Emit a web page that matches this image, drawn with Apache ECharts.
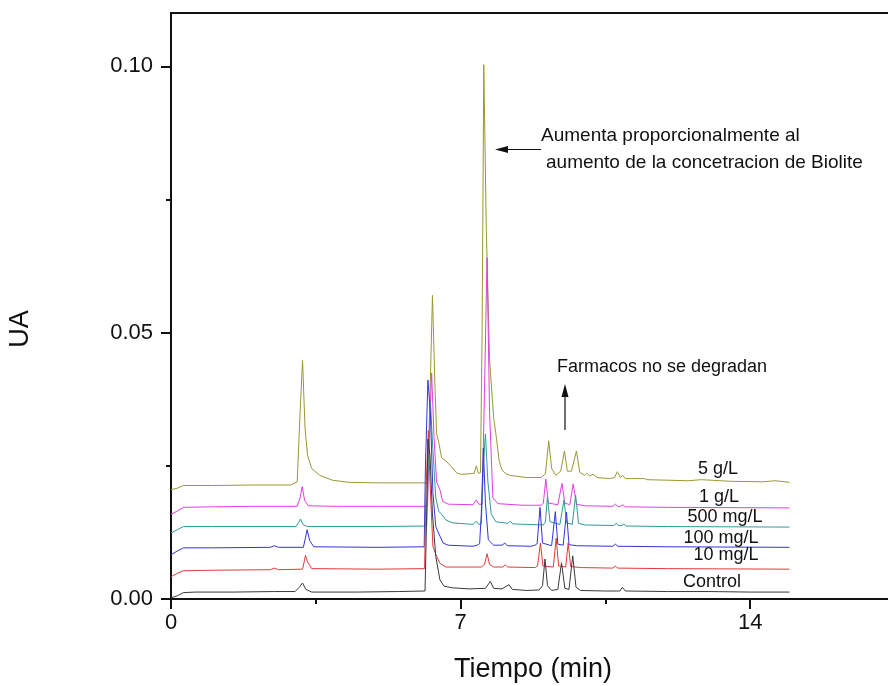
<!DOCTYPE html>
<html>
<head>
<meta charset="utf-8">
<script src="https://cdn.jsdelivr.net/npm/echarts@6/dist/echarts.min.js"></script>
<style>
html,body{margin:0;padding:0;background:#fff;}
#chart{width:888px;height:686px;}
</style>
</head>
<body>
<div id="chart"></div>
<script>
// ---- Data (time in min, absorbance UA) ----
const seriesNames = ["5 g/L", "1 g/L", "500 mg/L", "100 mg/L", "10 mg/L", "Control"];

const g5 = [[0,0.0205],[0.15,0.0208],[0.3,0.0213],[1,0.0213],[2,0.0214],[2.9,0.0214],[3.05,0.022],[3.12,0.035],[3.18,0.0448],[3.24,0.032],[3.3,0.027],[3.4,0.0245],[3.6,0.0232],[3.9,0.0223],[4.3,0.0219],[5,0.0218],[6,0.0218],[6.2,0.0218],[6.25,0.035],[6.32,0.057],[6.38,0.04],[6.42,0.031],[6.47,0.0295],[6.54,0.0265],[6.66,0.0258],[6.78,0.0248],[6.9,0.0237],[7.0,0.0234],[7.2,0.0235],[7.33,0.0236],[7.38,0.025],[7.43,0.0236],[7.48,0.0237],[7.52,0.05],[7.56,0.1003],[7.62,0.07],[7.7,0.045],[7.8,0.034],[7.87,0.03],[7.93,0.026],[8.0,0.0242],[8.1,0.0235],[8.2,0.0232],[8.6,0.0228],[8.95,0.0228],[9.05,0.0235],[9.13,0.0297],[9.2,0.0245],[9.3,0.0232],[9.42,0.024],[9.51,0.0278],[9.58,0.024],[9.68,0.024],[9.8,0.0278],[9.88,0.0238],[10.0,0.0232],[10.05,0.0236],[10.12,0.0231],[10.2,0.0234],[10.3,0.0228],[10.6,0.0226],[10.72,0.0228],[10.79,0.0239],[10.86,0.0228],[10.92,0.0232],[10.98,0.0226],[11.45,0.0226],[11.5,0.0224],[12.5,0.0222],[12.82,0.0224],[13.5,0.0221],[14.3,0.022],[14.6,0.0222],[14.95,0.0219]];

const g1 = [[0,0.0159],[0.15,0.0165],[0.3,0.0172],[1,0.0173],[2,0.0174],[3.05,0.0174],[3.12,0.019],[3.17,0.0211],[3.23,0.0185],[3.32,0.0175],[4,0.0174],[5,0.0174],[6.0,0.0174],[6.2,0.0174],[6.24,0.03],[6.30,0.0424],[6.36,0.03],[6.42,0.022],[6.5,0.0205],[6.57,0.0183],[6.7,0.0178],[7.3,0.0177],[7.38,0.0186],[7.44,0.0178],[7.52,0.0178],[7.58,0.04],[7.64,0.0641],[7.7,0.035],[7.78,0.019],[7.9,0.0179],[8.5,0.0176],[8.95,0.0176],[9.0,0.018],[9.06,0.0225],[9.12,0.018],[9.35,0.0177],[9.45,0.0217],[9.52,0.018],[9.64,0.0177],[9.72,0.0216],[9.8,0.0178],[10,0.0175],[10.68,0.0174],[10.74,0.0178],[10.8,0.0174],[10.86,0.0174],[10.92,0.0177],[10.98,0.0173],[12,0.0172],[14.95,0.0171]];

const mg500 = [[0,0.0124],[0.15,0.013],[0.3,0.0136],[1,0.0136],[2,0.0136],[3.02,0.0136],[3.08,0.0143],[3.13,0.015],[3.2,0.0139],[3.3,0.0136],[5,0.0136],[6.18,0.0137],[6.22,0.025],[6.27,0.037],[6.33,0.028],[6.4,0.019],[6.47,0.0165],[6.55,0.0158],[6.65,0.0148],[6.8,0.0143],[7.3,0.014],[7.38,0.0146],[7.44,0.014],[7.5,0.0141],[7.55,0.025],[7.6,0.031],[7.66,0.022],[7.74,0.016],[7.85,0.0145],[8.15,0.0142],[8.2,0.0146],[8.26,0.0141],[9.0,0.0139],[9.05,0.0145],[9.1,0.0192],[9.16,0.0145],[9.4,0.014],[9.5,0.0186],[9.56,0.0143],[9.7,0.014],[9.78,0.0195],[9.85,0.0142],[10,0.0139],[10.7,0.0138],[10.76,0.0142],[10.82,0.0138],[10.9,0.0138],[10.95,0.0141],[11,0.0137],[12,0.0136],[14.95,0.0135]];

const mg100 = [[0,0.0083],[0.15,0.009],[0.3,0.0096],[1,0.0096],[2.4,0.0097],[2.5,0.01],[2.6,0.0097],[3.2,0.0097],[3.25,0.0115],[3.29,0.013],[3.35,0.011],[3.45,0.0098],[5,0.0097],[6.12,0.0098],[6.15,0.025],[6.21,0.0411],[6.27,0.035],[6.33,0.02],[6.4,0.0136],[6.5,0.0118],[6.58,0.0105],[6.7,0.0101],[7.3,0.0099],[7.4,0.0101],[7.46,0.0104],[7.5,0.016],[7.55,0.0283],[7.6,0.018],[7.67,0.0111],[7.8,0.0101],[8.0,0.0101],[8.07,0.0105],[8.13,0.01],[8.7,0.0099],[8.8,0.0101],[8.85,0.0104],[8.92,0.0172],[8.98,0.0105],[9.2,0.01],[9.29,0.0164],[9.35,0.0103],[9.48,0.0101],[9.56,0.0163],[9.62,0.0102],[9.8,0.01],[10.68,0.0099],[10.74,0.0103],[10.8,0.0099],[12,0.0098],[14.95,0.0097]];

const mg10 = [[0,0.0042],[0.15,0.0048],[0.3,0.0053],[1,0.0054],[2.4,0.0055],[2.5,0.0058],[2.6,0.0055],[3.18,0.0056],[3.22,0.007],[3.25,0.0082],[3.3,0.007],[3.4,0.0057],[5,0.0056],[6.13,0.0057],[6.16,0.02],[6.22,0.0316],[6.26,0.022],[6.33,0.0099],[6.42,0.008],[6.5,0.0067],[6.65,0.006],[7.5,0.006],[7.58,0.0065],[7.64,0.0085],[7.7,0.0065],[7.8,0.006],[8.02,0.006],[8.08,0.0064],[8.14,0.006],[8.8,0.0059],[8.86,0.0062],[8.93,0.0105],[8.99,0.0062],[9.24,0.006],[9.31,0.0114],[9.37,0.0062],[9.54,0.006],[9.6,0.0105],[9.66,0.0061],[9.9,0.0059],[10.68,0.0058],[10.74,0.0062],[10.8,0.0058],[12,0.0057],[14.95,0.0056]];

const control = [[0,0.0002],[0.15,0.0006],[0.3,0.0012],[0.6,0.0013],[1.5,0.0013],[2.5,0.0014],[3.0,0.0014],[3.1,0.0022],[3.18,0.003],[3.26,0.0018],[3.4,0.0013],[4.5,0.0013],[5.5,0.0014],[6.14,0.0015],[6.17,0.012],[6.21,0.03],[6.26,0.027],[6.32,0.016],[6.4,0.008],[6.5,0.0036],[6.6,0.0024],[6.8,0.0021],[7.2,0.0019],[7.6,0.002],[7.72,0.0033],[7.8,0.002],[8.0,0.0019],[8.17,0.0027],[8.25,0.0018],[8.6,0.0016],[8.9,0.0017],[8.98,0.0025],[9.04,0.0075],[9.1,0.0025],[9.2,0.0016],[9.35,0.0018],[9.44,0.0068],[9.52,0.002],[9.62,0.0018],[9.71,0.0081],[9.79,0.0022],[9.9,0.0016],[10.5,0.0015],[10.85,0.0015],[10.91,0.0022],[10.98,0.0015],[12,0.0014],[13,0.0014],[14,0.0013],[14.95,0.0013]];

const seriesData = [g5, g1, mg500, mg100, mg10, control];
const seriesColors = ["#999933", "#e23ee2", "#339999", "#3434d8", "#e23a3a", "#3a3a3a"];

const xMajorTicks = [0, 7, 14];
const xMinorTicks = [3.5, 10.5, 17.5];
const yMajorTicks = [0, 0.05, 0.10];
const yMinorTicks = [0.025, 0.075];

const xTitle = "Tiempo (min)";
const yTitle = "UA";
const note1a = "Aumenta proporcionalmente al";
const note1b = "aumento de la concetracion de Biolite";
const note2 = "Farmacos no se degradan";

// ---- Chart ----
const FONT = "'Liberation Sans', Arial, sans-serif";
const chart = echarts.init(document.getElementById('chart'), null, {renderer: 'canvas'});

const gridL = 171, gridT = 13, gridW = 724, gridB = 87;

const option = {
  animation: false,
  backgroundColor: '#fff',
  grid: {left: gridL, top: gridT, width: gridW, bottom: gridB, containLabel: false, outerBoundsMode: 'none',
    show: true, borderColor: '#111', borderWidth: 2, backgroundColor: 'transparent'},
  xAxis: [{
    type: 'value', min: 0, max: 17.5, gridIndex: 0,
    axisLine: {show: true, onZero: false, lineStyle: {color: '#111', width: 2}},
    axisTick: {show: true, inside: false, length: 10, lineStyle: {color: '#111', width: 2}, customValues: xMajorTicks},
    axisLabel: {show: true, customValues: xMajorTicks, color: '#111', fontSize: 22, fontFamily: FONT, margin: 13,
      formatter: v => String(v)},
    splitLine: {show: false},
    name: xTitle, nameLocation: 'middle', nameGap: 57,
    nameTextStyle: {color: '#111', fontSize: 27, fontFamily: FONT}
  }, {
    type: 'value', min: 0, max: 17.5, gridIndex: 0, position: 'bottom',
    axisLine: {show: false, onZero: false},
    axisTick: {show: true, inside: false, length: 5, lineStyle: {color: '#111', width: 2}, customValues: xMinorTicks},
    axisLabel: {show: false},
    splitLine: {show: false}
  }],
  yAxis: [{
    type: 'value', min: 0, max: 0.11, gridIndex: 0,
    axisLine: {show: true, onZero: false, lineStyle: {color: '#111', width: 2}},
    axisTick: {show: true, inside: false, length: 10, lineStyle: {color: '#111', width: 2}, customValues: yMajorTicks},
    axisLabel: {show: true, customValues: yMajorTicks, color: '#111', fontSize: 22, fontFamily: FONT, margin: 18,
      formatter: v => v.toFixed(2)},
    splitLine: {show: false}
  }, {
    type: 'value', min: 0, max: 0.11, gridIndex: 0, position: 'left',
    axisLine: {show: false, onZero: false},
    axisTick: {show: true, inside: false, length: 5, lineStyle: {color: '#111', width: 2}, customValues: yMinorTicks},
    axisLabel: {show: false},
    splitLine: {show: false}
  }],
  series: seriesData.map((d, i) => ({
    name: seriesNames[i], type: 'line', data: d, xAxisIndex: 0, yAxisIndex: 0,
    showSymbol: false, symbol: 'none', smooth: false, clip: true,
    lineStyle: {color: seriesColors[i], width: 1},
    z: 2 + i
  }))
};
chart.setOption(option);

// labels & annotations
const labelPos = [
  {t: seriesNames[0], x: 718, y: 469},
  {t: seriesNames[1], x: 719, y: 497},
  {t: seriesNames[2], x: 725, y: 517},
  {t: seriesNames[3], x: 721, y: 538},
  {t: seriesNames[4], x: 726, y: 555},
  {t: seriesNames[5], x: 712, y: 582}
];
const graphics = labelPos.map(p => ({
  type: 'text', x: p.x, y: p.y, z: 50,
  style: {text: p.t, fill: '#111', font: '18px ' + FONT, textAlign: 'center', textVerticalAlign: 'middle'}
}));
graphics.push(
  {type: 'text', x: 21, y: 329, rotation: Math.PI / 2, z: 50,
    style: {text: yTitle, fill: '#111', font: '27px ' + FONT, textAlign: 'center', textVerticalAlign: 'middle'}},
  {type: 'text', x: 541, y: 136, z: 50, style: {text: note1a, fill: '#111', font: '19px ' + FONT, textAlign: 'left', textVerticalAlign: 'middle'}},
  {type: 'text', x: 546, y: 163, z: 50, style: {text: note1b, fill: '#111', font: '19px ' + FONT, textAlign: 'left', textVerticalAlign: 'middle'}},
  {type: 'line', z: 50, shape: {x1: 541, y1: 149.5, x2: 505, y2: 149.5}, style: {stroke: '#111', lineWidth: 1.2}},
  {type: 'polygon', z: 50, shape: {points: [[495, 149.5], [508, 146], [508, 153]]}, style: {fill: '#111'}},
  {type: 'text', x: 557, y: 367, z: 50, style: {text: note2, fill: '#111', font: '18px ' + FONT, textAlign: 'left', textVerticalAlign: 'middle'}},
  {type: 'line', z: 50, shape: {x1: 565, y1: 430, x2: 565, y2: 395}, style: {stroke: '#111', lineWidth: 1.2}},
  {type: 'polygon', z: 50, shape: {points: [[565, 384], [561.5, 397], [568.5, 397]]}, style: {fill: '#111'}}
);
chart.setOption({graphic: graphics});
</script>
</body>
</html>
